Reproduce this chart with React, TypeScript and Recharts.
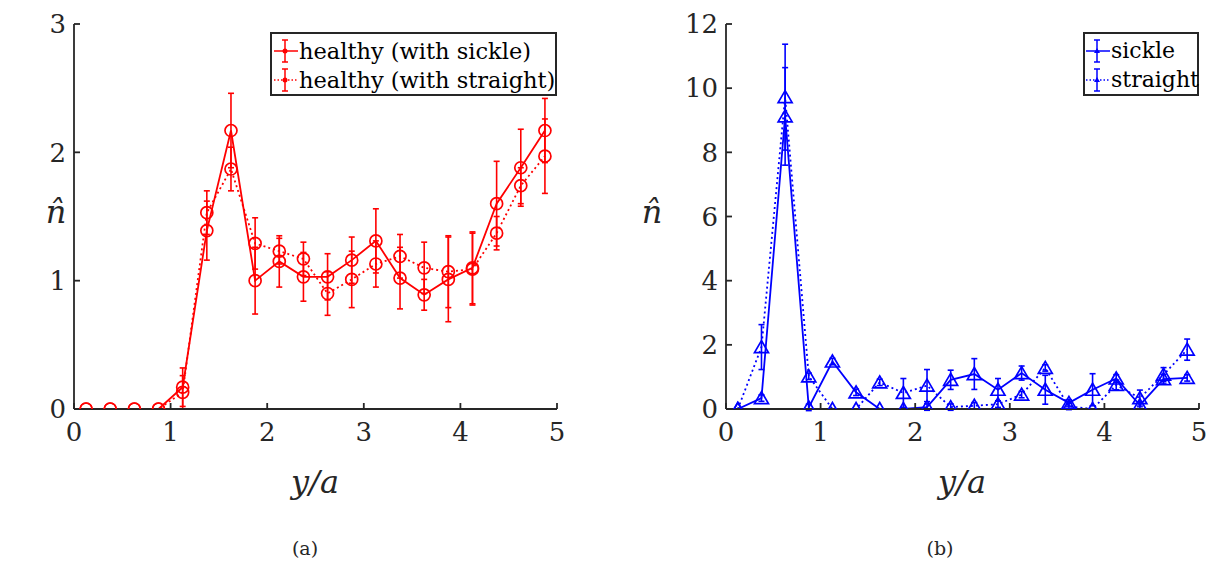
import { LineChart, Line, XAxis, YAxis, ErrorBar } from "recharts";

// y/a sample positions (bin centres)
const yPos = [0.125, 0.375, 0.625, 0.875, 1.125, 1.375, 1.625, 1.875, 2.125, 2.375, 2.625, 2.875, 3.125, 3.375, 3.625, 3.875, 4.125, 4.375, 4.625, 4.875];

// panel (a): healthy cells
const healthySickle = [0, 0, 0, 0, 0.17, 1.39, 2.17, 1.0, 1.15, 1.03, 1.03, 1.16, 1.31, 1.02, 0.89, 1.01, 1.1, 1.6, 1.88, 2.17];
const healthySickleErr = [0, 0, 0, 0, 0.15, 0.23, 0.29, 0.26, 0.2, 0.19, 0.18, 0.18, 0.25, 0.24, 0.12, 0.33, 0.28, 0.33, 0.3, 0.25];
const healthyStraight = [0, 0, 0, 0, 0.13, 1.53, 1.87, 1.29, 1.23, 1.17, 0.9, 1.01, 1.13, 1.19, 1.1, 1.07, 1.09, 1.37, 1.74, 1.97];
const healthyStraightErr = [0, 0, 0, 0, 0.13, 0.17, 0.17, 0.2, 0.1, 0.13, 0.17, 0.22, 0.18, 0.17, 0.2, 0.28, 0.28, 0.13, 0.14, 0.29];

// panel (b): sickle / straight cells
const sickle = [0, 0.34, 9.12, 0.05, 1.48, 0.52, 0, 0, 0.06, 0.91, 1.09, 0.6, 1.12, 0.6, 0.19, 0.6, 0.95, 0.12, 0.93, 0.97];
const sickleErr = [0, 0.1, 1.52, 0.1, 0.1, 0.1, 0, 0, 0.1, 0.3, 0.48, 0.35, 0.22, 0.45, 0.1, 0.5, 0.12, 0.1, 0.15, 0.1];
const straight = [0, 1.93, 9.72, 1.02, 0, 0, 0.83, 0.5, 0.73, 0.06, 0.1, 0.15, 0.45, 1.28, 0.08, 0, 0.75, 0.34, 1.07, 1.85];
const straightErr = [0, 0.7, 1.65, 0.1, 0, 0, 0.1, 0.45, 0.5, 0.1, 0.1, 0.1, 0.1, 0.1, 0.1, 0, 0.15, 0.25, 0.22, 0.33];

const xTicks = [0, 1, 2, 3, 4, 5];
const yTicksA = [0, 1, 2, 3];
const yTicksB = [0, 2, 4, 6, 8, 10, 12];

const dataA = yPos.map((x, i) => ({ x, s: healthySickle[i], sErr: healthySickleErr[i], t: healthyStraight[i], tErr: healthyStraightErr[i] }));
const dataB = yPos.map((x, i) => ({ x, s: sickle[i], sErr: sickleErr[i], t: straight[i], tErr: straightErr[i] }));

const FONT = "DejaVu Serif";
const AX = "#262626";
const RED = "#ff0000";
const BLUE = "#0000ff";

const tickStyle = { fontFamily: FONT, fontSize: 26, fill: AX };

const Triangle = (props: any) => {
  const { cx, cy } = props;
  if (cx == null || cy == null) return <g />;
  return (
    <polygon
      points={`${cx},${cy - 6.5} ${cx - 7},${cy + 5.5} ${cx + 7},${cy + 5.5}`}
      fill="none"
      stroke={BLUE}
      strokeWidth={1.7}
    />
  );
};

function Frame({ yTicks, yMax }: { yTicks: number[]; yMax: number }) {
  return [
    <XAxis key="xb" xAxisId="b" dataKey="x" type="number" domain={[0, 5]} ticks={xTicks} allowDataOverflow
      height={60} tickSize={-6} tickMargin={20} stroke={AX} strokeWidth={1.8} tick={tickStyle} />,
    <XAxis key="xt" xAxisId="t" orientation="top" type="number" domain={[0, 5]} ticks={xTicks} height={0}
      tickSize={-6} tick={false} stroke={AX} strokeWidth={1.8} />,
    <YAxis key="yl" yAxisId="l" type="number" domain={[0, yMax]} ticks={yTicks} allowDataOverflow
      width={60} tickSize={-6} tickMargin={14} stroke={AX} strokeWidth={1.8} tick={tickStyle} />,
    <YAxis key="yr" yAxisId="r" orientation="right" type="number" domain={[0, yMax]} ticks={yTicks} width={0}
      tickSize={-6} tick={false} stroke={AX} strokeWidth={1.8} />,
  ];
}

function LegendIcon({ color, dotted, tri }: { color: string; dotted?: boolean; tri?: boolean }) {
  return (
    <svg width={26} height={26} style={{ display: "block", flex: "none" }}>
      <line x1={1} y1={13} x2={25} y2={13} stroke={color} strokeWidth={1.5} strokeDasharray={dotted ? "1.5 2" : undefined} />
      <line x1={12} y1={2} x2={12} y2={24} stroke={color} strokeWidth={1.5} />
      <line x1={9} y1={2} x2={15} y2={2} stroke={color} strokeWidth={1.5} />
      <line x1={9} y1={24} x2={15} y2={24} stroke={color} strokeWidth={1.5} />
      {tri ? <polygon points="12,10 9,15 15,15" fill={color} /> : <circle cx={12} cy={13} r={2.5} fill={color} />}
    </svg>
  );
}

const label = (text: string, left: number, top: number, size: number, italic = false) => (
  <div style={{ position: "absolute", left, top, transform: "translate(-50%, -50%)", fontFamily: FONT, fontSize: size, fontStyle: italic ? "italic" : "normal", color: AX, whiteSpace: "nowrap", lineHeight: 1 }}>
    {text}
  </div>
);

export default function App() {
  return (
    <div style={{ position: "absolute", left: 0, top: 0, width: 1214, height: 563, background: "#fff" }}>
      <div style={{ position: "absolute", left: 0, top: 0 }}>
        <LineChart width={620} height={563} data={dataA} margin={{ top: 24, right: 63, left: 14, bottom: 94 }}>
          {Frame({ yTicks: yTicksA, yMax: 3 })}
          <Line xAxisId="b" yAxisId="l" dataKey="t" stroke={RED} strokeWidth={1.8} strokeDasharray="2 3" isAnimationActive={false}
            dot={{ r: 6, stroke: RED, strokeWidth: 1.7, fill: "none", strokeDasharray: "" }}>
            <ErrorBar dataKey="tErr" direction="y" width={3} stroke={RED} strokeWidth={1.6} />
          </Line>
          <Line xAxisId="b" yAxisId="l" dataKey="s" stroke={RED} strokeWidth={1.8} isAnimationActive={false}
            dot={{ r: 6, stroke: RED, strokeWidth: 1.7, fill: "none" }}>
            <ErrorBar dataKey="sErr" direction="y" width={3} stroke={RED} strokeWidth={1.6} />
          </Line>
        </LineChart>
      </div>
      <div style={{ position: "absolute", left: 620, top: 0 }}>
        <LineChart width={594} height={563} data={dataB} margin={{ top: 24, right: 15, left: 46, bottom: 94 }}>
          {Frame({ yTicks: yTicksB, yMax: 12 })}
          <Line xAxisId="b" yAxisId="l" dataKey="t" stroke={BLUE} strokeWidth={1.8} strokeDasharray="2 3" isAnimationActive={false}
            dot={<Triangle />}>
            <ErrorBar dataKey="tErr" direction="y" width={3} stroke={BLUE} strokeWidth={1.6} />
          </Line>
          <Line xAxisId="b" yAxisId="l" dataKey="s" stroke={BLUE} strokeWidth={1.8} isAnimationActive={false}
            dot={<Triangle />}>
            <ErrorBar dataKey="sErr" direction="y" width={3} stroke={BLUE} strokeWidth={1.6} />
          </Line>
        </LineChart>
      </div>

      {/* legends */}
      <div style={{ position: "absolute", left: 270, top: 32, width: 287, height: 64, boxSizing: "border-box", border: `2px solid ${AX}`, background: "#fff", fontFamily: FONT, fontSize: 22.5, color: "#000", padding: "2px 0 0 1px" }}>
        {[{ t: "healthy (with sickle)", d: false }, { t: "healthy (with straight)", d: true }].map((e) => (
          <div key={e.t} style={{ display: "flex", alignItems: "center", height: 29, whiteSpace: "nowrap" }}>
            <LegendIcon color={RED} dotted={e.d} />
            <span>{e.t}</span>
          </div>
        ))}
      </div>
      <div style={{ position: "absolute", left: 1083, top: 32, width: 116, height: 64, boxSizing: "border-box", border: `2px solid ${AX}`, background: "#fff", fontFamily: FONT, fontSize: 22, color: "#000", padding: "2px 0 0 0" }}>
        {[{ t: "sickle", d: false }, { t: "straight", d: true }].map((e) => (
          <div key={e.t} style={{ display: "flex", alignItems: "center", height: 29, whiteSpace: "nowrap" }}>
            <LegendIcon color={BLUE} dotted={e.d} tri />
            <span>{e.t}</span>
          </div>
        ))}
      </div>

      {/* axis labels and captions */}
      {label("y/a", 315, 482, 32, true)}
      {label("y/a", 962, 482, 32, true)}
      {label("n\u0302", 56, 212, 32, true)}
      {label("n\u0302", 652, 212, 32, true)}
      {label("(a)", 305, 548, 19)}
      {label("(b)", 940, 548, 19)}
    </div>
  );
}
